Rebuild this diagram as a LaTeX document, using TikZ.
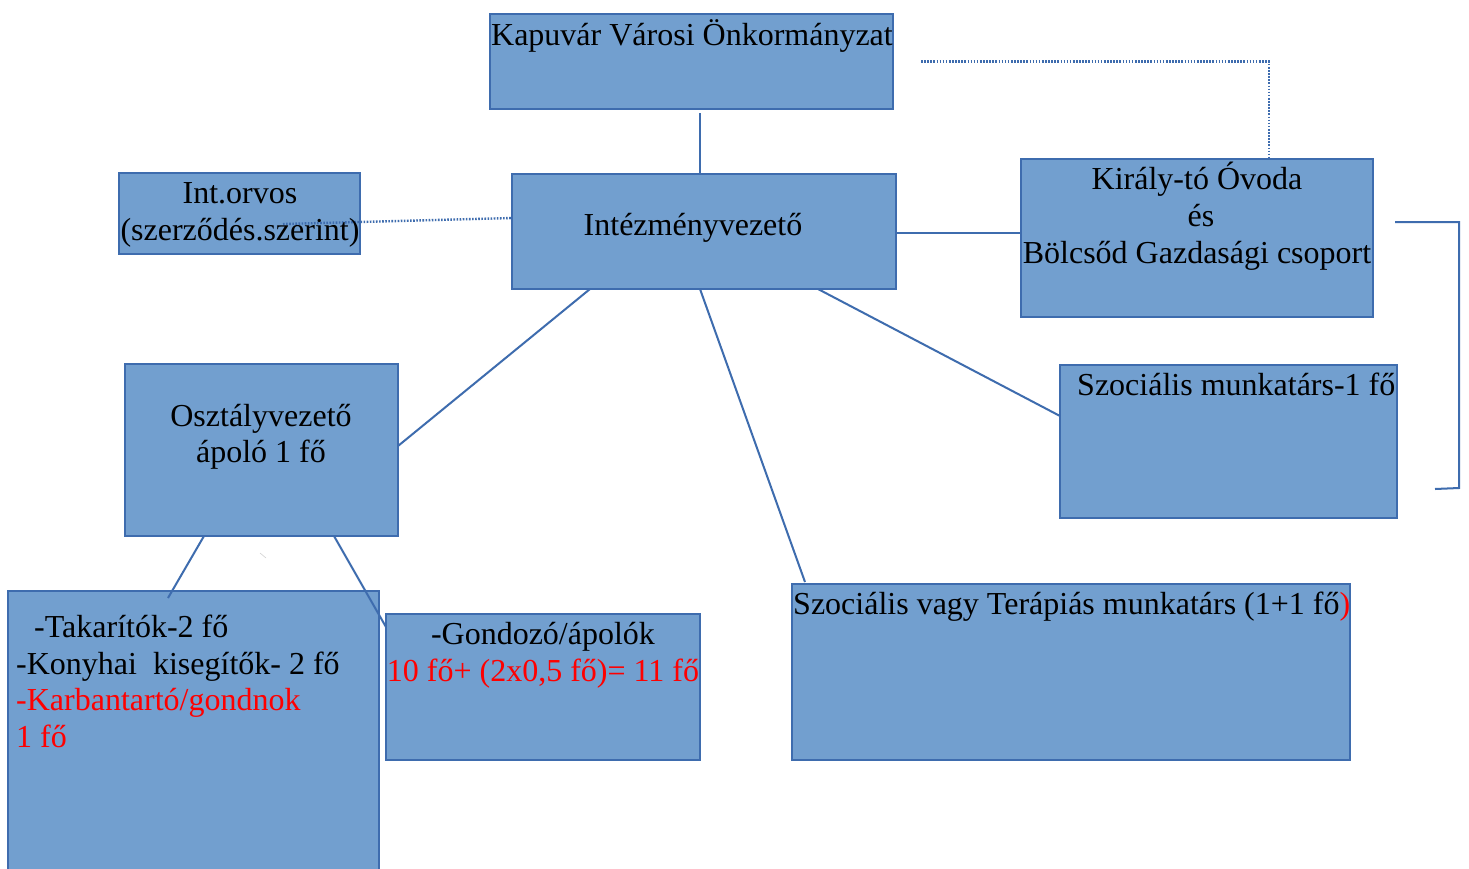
\documentclass[tikz,border=0pt]{standalone}
\usepackage{fontspec}
\setmainfont{Liberation Serif}
\definecolor{boxfill}{RGB}{114,159,207}
\definecolor{boxline}{RGB}{62,108,174}
\definecolor{redtxt}{RGB}{255,0,0}
\tikzset{
  box/.style={draw=boxline, fill=boxfill, line width=2.2pt, rectangle, inner sep=0pt, outer sep=0pt, anchor=north west},
  conn/.style={draw=boxline, line width=2pt},
  dotline/.style={draw=boxline, line width=2.4pt, dash pattern=on 1.6pt off 1.5pt},
  txt/.style={inner sep=0pt, anchor=base, font=\fontsize{32}{36.8}\selectfont},
  ltxt/.style={txt, anchor=base west},
}
\begin{document}
\begin{tikzpicture}[x=1pt,y=-1pt]
\clip (0,0) rectangle (1469,868);
\fill[white] (0,0) rectangle (1469,868);
% boxes
\node[box, minimum width=403pt, minimum height=95pt] (kap) at (490,14) {};
\node[box, minimum width=241pt, minimum height=81pt] (io) at (119,173) {};
\node[box, minimum width=384pt, minimum height=115pt] (iv) at (512,174) {};
\node[box, minimum width=352pt, minimum height=158pt] (kt) at (1021,159) {};
\node[box, minimum width=337pt, minimum height=153pt] (sm) at (1060,365) {};
\node[box, minimum width=273pt, minimum height=172pt] (osz) at (125,364) {};
\node[box, minimum width=371pt, minimum height=290pt] (lb) at (8,591) {};
\node[box, minimum width=314pt, minimum height=146pt] (ga) at (386,614) {};
\node[box, minimum width=558pt, minimum height=176pt] (svt) at (792,584) {};
% connectors
\draw[conn] ([xshift=210pt,yshift=-4pt]kap.south west) -- ([xshift=188pt]iv.north west);
\draw[dotline] ([xshift=28pt]kap.east) -| ([xshift=248pt,yshift=2pt]kt.north west);
\draw[dotline] ([xshift=164pt,yshift=-10.5pt]io.west) -- ([yshift=13.5pt]iv.west);
\draw[conn] ([yshift=-1.5pt]iv.east) -- ([yshift=5pt]kt.west);
\draw[conn] ([xshift=78pt]iv.south west) -- ([yshift=4pt]osz.east);
\draw[conn] ([xshift=188pt]iv.south west) -- ([xshift=13pt,yshift=2pt]svt.north west);
\draw[conn] ([xshift=306pt]iv.south west) -- ([yshift=25.5pt]sm.west);
\draw[conn] ([xshift=79pt]osz.south west) -- ([xshift=160pt,yshift=-7pt]lb.north west);
\draw[conn] ([xshift=209pt]osz.south west) -- ([yshift=-13pt]ga.north west);
\coordinate (b1) at (1395,222);
\coordinate (b2) at (1459,222);
\coordinate (b3) at (1459,488);
\coordinate (b4) at (1435,489);
\draw[conn] (b1) -- (b2) -- (b3) -- (b4);
\coordinate (m1) at (260,553);
\coordinate (m2) at (266,558);
\draw[gray!35, line width=0.6pt] (m1) -- (m2);
% texts
\node[txt] (t1) at (692,45.5) {Kapuvár Városi Önkormányzat};
\node[txt] (t2) at (240,203.5) {Int.orvos};
\node[txt] (t3) at (240,240.5) {(szerződés.szerint)};
\node[txt] (t4) at (693,235.5) {Intézményvezető};
\node[txt] (t5) at (1197,189.5) {Király-tó Óvoda};
\node[txt] (t6) at (1201,226.5) {és};
\node[txt] (t7) at (1197,263) {Bölcsőd Gazdasági csoport};
\node[ltxt] (t8) at (1077,395.5) {Szociális munkatárs-1 fő};
\node[txt] (t9) at (261,426.5) {Osztályvezető};
\node[txt] (t10) at (261,462.5) {ápoló 1 fő};
\node[ltxt] (t11) at (34,637.5) {-Takarítók-2 fő};
\node[ltxt] (t12) at (16,674) {-Konyhai\ \ kisegítők- 2 fő};
\node[ltxt, text=redtxt] (t13) at (16,710.5) {-Karbantartó/gondnok};
\node[ltxt, text=redtxt] (t14) at (16,747) {1 fő};
\node[txt] (t15) at (543,644.5) {-Gondozó/ápolók};
\node[txt, text=redtxt] (t16) at (543,681.5) {10 fő+ (2x0,5 fő)= 11 fő};
\node[ltxt] (t17) at (793,614.5) {Szociális vagy Terápiás munkatárs (1+1 fő\textcolor{redtxt}{)}};
\end{tikzpicture}
\end{document}
